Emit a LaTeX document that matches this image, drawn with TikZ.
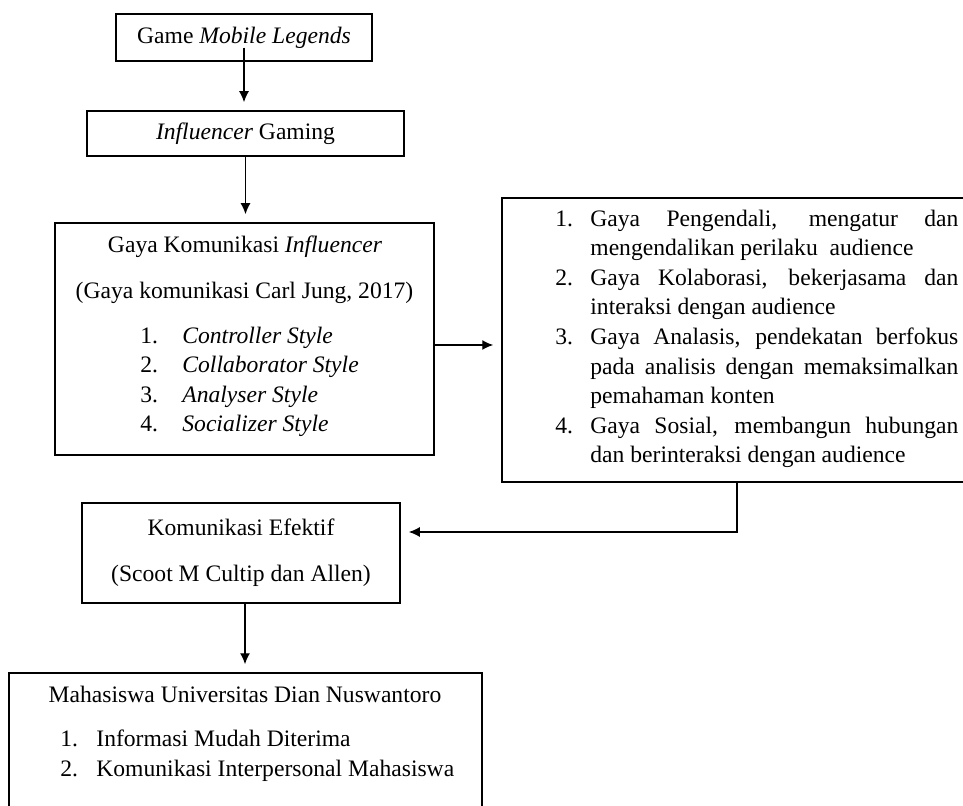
\documentclass[tikz,border=0pt]{standalone}
\usepackage{fontspec}
\setmainfont{Liberation Serif}
\usetikzlibrary{arrows.meta}
\tikzset{
  box/.style={draw, line width=0.75pt, inner sep=0pt, align=center},
  txt/.style={inner sep=0pt, align=left},
  arr/.style={-{Latex[length=5.5pt,width=5pt]}, line width=0.7pt, shorten >=4pt}
}
\newcommand{\itemno}[2]{\makebox[#1][l]{#2}}
\begin{document}
\begin{tikzpicture}[x=0.5pt, y=-0.5pt, font=\fontsize{11.8}{14.8}\selectfont]
	\path[use as bounding box, clip] (0,0) rectangle (963,806);
	% boxes
	\node[box, minimum width=128pt, minimum height=23.5pt] (game) at (244,37.5) {Game \textit{Mobile Legends}};
	\node[box, minimum width=158.5pt, minimum height=22.5pt] (infl) at (245.5,133.5) {\textit{Influencer} Gaming};
	\node[box, minimum width=189.5pt, minimum height=116pt] (style) at (244.5,339) {};
	\node[box, minimum width=235pt, minimum height=142pt] (list) at (737,340) {};
	\node[box, minimum width=159pt, minimum height=50pt] (efektif) at (241,553) {Komunikasi Efektif\\[8.2pt](Scoot M Cultip dan Allen)};
	\node[box, minimum width=236.5pt, minimum height=78.5pt] (mhs) at (245.5,751.5) {};
	% texts (multi-line nodes sit on the baseline of their last line)
	\node[inner sep=0pt, anchor=base] (styletitle) at (245,253) {Gaya Komunikasi \textit{Influencer}};
	\node[inner sep=0pt, anchor=base] (stylesrc) at (244.5,299) {(Gaya komunikasi Carl Jung, 2017)};
	\node[txt, anchor=base west] (styleitems) at (140,432) {\itemno{21pt}{1.}\textit{Controller Style}\\
		\itemno{21pt}{2.}\textit{Collaborator Style}\\
		\itemno{21pt}{3.}\textit{Analyser Style}\\
		\itemno{21pt}{4.}\textit{Socializer Style}};
	\node[txt, anchor=base west] (listitems) at (555,463) {\itemno{17.5pt}{1.}\makebox[184pt][s]{Gaya Pengendali, mengatur dan}\\
		\hspace*{17.5pt}mengendalikan perilaku\ \ audience\\
		\itemno{17.5pt}{2.}\makebox[184pt][s]{Gaya Kolaborasi, bekerjasama dan}\\
		\hspace*{17.5pt}interaksi dengan audience\\
		\itemno{17.5pt}{3.}\makebox[184pt][s]{Gaya Analasis, pendekatan berfokus}\\
		\hspace*{17.5pt}\makebox[184pt][s]{pada analisis dengan memaksimalkan}\\
		\hspace*{17.5pt}pemahaman konten\\
		\itemno{17.5pt}{4.}\makebox[184pt][s]{Gaya Sosial, membangun hubungan}\\
		\hspace*{17.5pt}dan berinteraksi dengan audience};
	\node[inner sep=0pt, anchor=base] (mhstitle) at (245,702) {Mahasiswa Universitas Dian Nuswantoro};
	\node[txt, anchor=base west] (mhsitems) at (60,776) {\itemno{18pt}{1.}Informasi Mudah Diterima\\
		\itemno{18pt}{2.}Komunikasi Interpersonal Mahasiswa};
	% connectors
	\draw[arr] ([yshift=7pt]game.south) -- (game.south |- infl.north);
	\draw[arr] (infl.south) -- (infl.south |- style.north);
	\draw[arr] ([yshift=-3pt]style.east) -- ([yshift=-3pt]style.east -| list.west);
	\draw[arr] (list.south) |- ([yshift=10.5pt]efektif.east);
	\draw[arr] ([xshift=2pt]efektif.south) -- ([xshift=2pt]efektif.south |- mhs.north);
\end{tikzpicture}
\end{document}
